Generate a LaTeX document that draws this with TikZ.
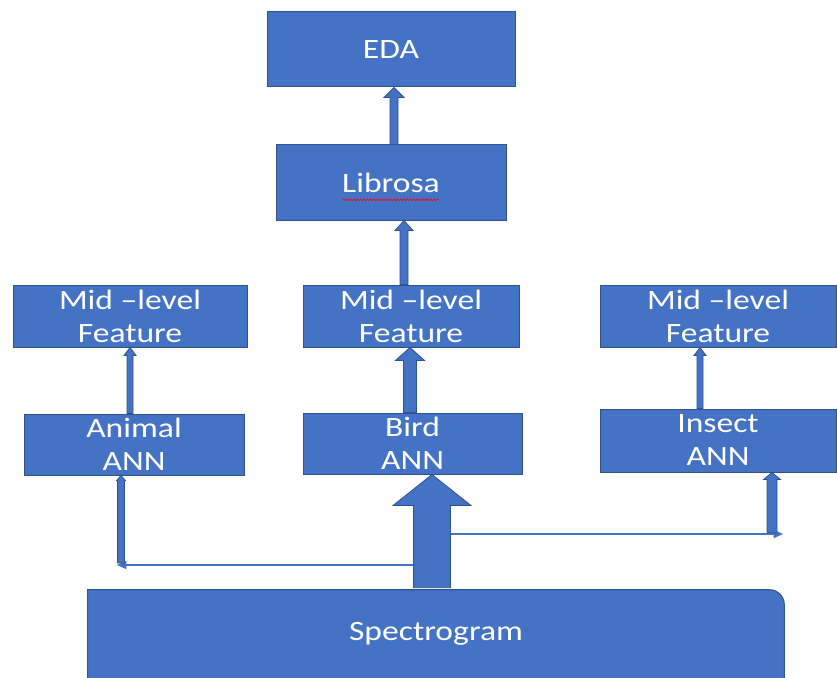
\documentclass[tikz,border=0pt]{standalone}
\usepackage{fontspec}
\setmainfont{Carlito}[FakeStretch=1.2]
\usetikzlibrary{arrows.meta,calc,backgrounds,decorations.pathmorphing}
\definecolor{boxfill}{HTML}{4472C4}
\definecolor{boxline}{HTML}{2F528F}
\tikzset{
  stagefont/.style={text=white, font=\fontsize{21}{24.75}\selectfont, align=center},
  stagebox/.style={stagefont, draw=boxline, fill=boxfill, line width=0.75pt, inner sep=0pt},
  blockarrow/.style={draw=boxline, fill=boxfill, line width=0.6pt, line join=miter},
  feedline/.style={draw=boxfill, line width=1.1pt, -{Triangle[length=7pt,width=6pt]}},
}
% upward block arrow: #1 foot, #2 tip, #3 half shaft, #4 half head, #5 head length
\newcommand\upblock[5]{%
  \path[blockarrow] let \p1=#1, \p2=#2 in
    (\x1-#3,\y1) -- (\x1-#3,\y2-#5) -- (\x1-#4,\y2-#5) -- (\x1,\y2)
    -- (\x1+#4,\y2-#5) -- (\x1+#3,\y2-#5) -- (\x1+#3,\y1) -- cycle;}
\begin{document}
\begin{tikzpicture}[x=0.75pt,y=-0.75pt]
\useasboundingbox (0,0) rectangle (837,677);
\clip (0,0) rectangle (837,677);

% stages
\node[stagebox, minimum width=186pt,   minimum height=56.25pt] (eda)     at (391,49.5)  {EDA};
\node[stagebox, minimum width=172.5pt, minimum height=56.25pt] (librosa) at (391,182.5) {Librosa};
\node[stagebox, minimum width=175.5pt, minimum height=46.5pt]  (midL)    at (130,316)   {Mid –level\\Feature};
\node[stagebox, minimum width=162pt,   minimum height=46.5pt]  (midM)    at (411,316)   {Mid –level\\Feature};
\node[stagebox, minimum width=177pt,   minimum height=46.5pt]  (midR)    at (718,316)   {Mid –level\\Feature};
\node[stagebox, minimum width=165pt,   minimum height=45.75pt] (animal)  at (134,444.5) {Animal\\ANN};
\node[stagebox, minimum width=164.25pt,minimum height=45.75pt] (bird)    at (412.5,443.5) {Bird\\ANN};
\node[stagebox, minimum width=177pt,   minimum height=47.25pt] (insect)  at (718,440.5) {Insect\\ANN};

% spell-check squiggle under Librosa
\draw[red, line width=0.5pt, decorate, decoration={snake, amplitude=0.6pt, segment length=2.5pt}]
  ([xshift=-36pt,yshift=-13pt]librosa.center) -- ([xshift=36pt,yshift=-13pt]librosa.center);

% spectrogram block, top-right corner rounded
\node[stagefont, minimum width=522pt, minimum height=66pt, inner sep=0pt] (spec) at (436,634) {Spectrogram};
\begin{scope}[on background layer]
  \path[draw=boxline, fill=boxfill, line width=0.75pt]
    ([yshift=-12pt]spec.south west) -- (spec.north west) -- ([xshift=-11pt]spec.north east)
    .. controls ([xshift=-5pt]spec.north east) and ([yshift=-5pt]spec.north east)
    .. ([yshift=-11pt]spec.north east)
    -- ([yshift=-12pt]spec.south east);
\end{scope}

% thin feed lines
\coordinate (shaftL)     at (413.5,565);
\coordinate (leftEnd)    at (117,565);
\coordinate (animalFoot) at (121,563);
\coordinate (shaftR)     at (450.5,534);
\coordinate (rightEnd)   at (783,534);
\coordinate (insectFoot) at (772,533);
\draw[feedline] (shaftL) -- (leftEnd);
\draw[feedline] (shaftR) -- (rightEnd);

% block arrows
\upblock{(librosa.north -| 394,0)}{(eda.south -| 394,0)}{3pt}{7.5pt}{7.5pt}
\upblock{(midM.north -| 404,0)}{(librosa.south -| 404,0)}{3pt}{6.75pt}{7.5pt}
\upblock{(bird.north -| 410,0)}{(midM.south -| 410,0)}{4.9pt}{10.9pt}{9.75pt}
\upblock{(animal.north -| 130,0)}{(midL.south -| 130,0)}{2.25pt}{4.5pt}{6pt}
\upblock{(insect.north -| 700,0)}{(midR.south -| 700,0)}{2.25pt}{4.5pt}{6pt}
\upblock{(animalFoot)}{(animal.south -| animalFoot)}{2.6pt}{3.5pt}{4pt}
\upblock{(insectFoot)}{(insect.south -| insectFoot)}{3.75pt}{6.4pt}{5.25pt}
\upblock{([yshift=1.5pt]spec.north -| 432,0)}{(bird.south -| 432,0)}{13.9pt}{29.25pt}{23.25pt}
\end{tikzpicture}
\end{document}
